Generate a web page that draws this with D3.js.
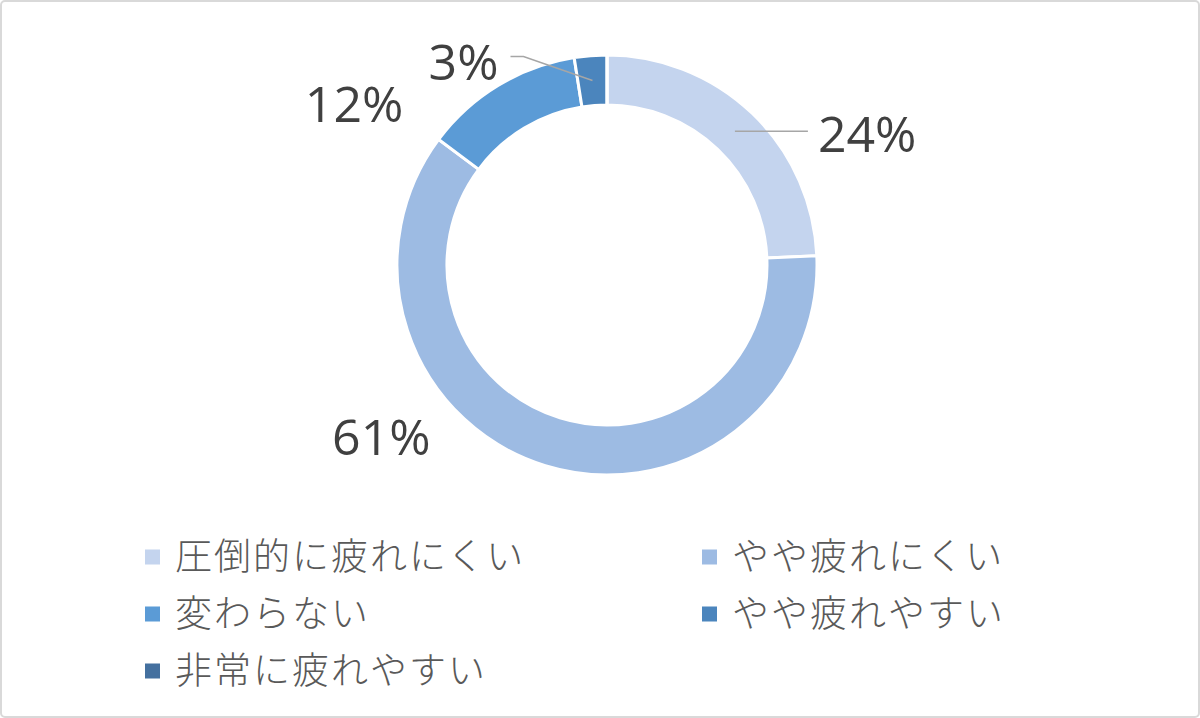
<!DOCTYPE html>
<html>
<head>
<meta charset="utf-8">
<script src="https://cdn.jsdelivr.net/npm/d3@7"></script>
<style>
  html, body { margin: 0; padding: 0; background: #fff; }
  svg { display: block; }
</style>
</head>
<body>
<div id="chart"></div>
<script>
// Donut chart data (clockwise from 12 o'clock)
const categories = ['圧倒的に疲れにくい', 'やや疲れにくい', '変わらない', 'やや疲れやすい', '非常に疲れやすい'];
const shares = [24.3, 60.9, 12.3, 2.5, 0];
const colors = ['#c4d4ee', '#9dbbe3', '#5b9bd6', '#4b85bd', '#44709f'];
// label nudges from each slice centroid (Excel-style placement)
const labelNudge = [[83, 21, 'start'], [-122, 13, 'end'], [-108, 15, 'end'], [-94, -1, 'end'], null];
const leaderLines = [true, false, false, true, false];

const width = 1200, height = 718;
const cx = 607, cy = 265, outerR = 210, innerR = 160;

const svg = d3.select('#chart').append('svg')
    .attr('width', width)
    .attr('height', height);

// frame
svg.append('rect')
    .attr('x', 1).attr('y', 1)
    .attr('width', width - 2).attr('height', height - 2)
    .attr('rx', 4)
    .attr('fill', '#fff')
    .attr('stroke', '#d9d9d9')
    .attr('stroke-width', 2);

const pie = d3.pie().sort(null).value(d => d)(shares);
const arc = d3.arc().innerRadius(innerR).outerRadius(outerR);
const midArc = d3.arc().innerRadius(185).outerRadius(185);

const g = svg.append('g').attr('transform', `translate(${cx},${cy})`);

g.selectAll('path.slice')
    .data(pie)
    .enter().append('path')
    .attr('class', 'slice')
    .attr('d', arc)
    .attr('fill', (d, i) => colors[i])
    .attr('stroke', '#fff')
    .attr('stroke-width', 3)
    .attr('stroke-linejoin', 'miter');

// data labels
const labelFont = '"Open Sans", "Noto Sans", sans-serif';
pie.forEach((d, i) => {
    if (!labelNudge[i]) return;
    const [mx, my] = midArc.centroid(d);
    const [dx, dy, anchor] = labelNudge[i];
    const tx = mx + dx, ty = my + dy;

    if (leaderLines[i]) {
        let pts;
        if (anchor === 'start') {
            pts = [[mx, my], [tx - 10, my]];
        } else {
            pts = [[mx, my], [tx + 25, ty - 23], [tx + 12, ty - 23]];
        }
        g.append('path')
            .attr('d', d3.line()(pts))
            .attr('fill', 'none')
            .attr('stroke', '#a6a6a6')
            .attr('stroke-width', 1.5);
    }

    g.append('text')
        .attr('x', tx)
        .attr('y', ty)
        .attr('text-anchor', anchor)
        .attr('font-family', labelFont)
        .attr('font-size', 50)
        .attr('fill', '#404040')
        .text(Math.round(d.data) + '%');
});

// legend
const legendCols = [145, 702];
const legendTop = 557, legendStep = 57;
const legend = svg.append('g');
categories.forEach((c, i) => {
    const col = i % 2, row = Math.floor(i / 2);
    const x = legendCols[col], y = legendTop + row * legendStep;
    const item = legend.append('g').attr('transform', `translate(${x},${y})`);
    item.append('rect')
        .attr('x', 0).attr('y', -7.5)
        .attr('width', 15).attr('height', 15)
        .attr('fill', colors[i]);
    item.append('text')
        .attr('x', 30)
        .attr('y', 0)
        .attr('dy', '0.36em')
        .attr('font-family', '"Noto Sans CJK JP", sans-serif')
        .attr('font-weight', 300)
        .attr('font-size', 37)
        .attr('letter-spacing', 2)
        .attr('fill', '#595959')
        .text(c);
});
</script>
</body>
</html>
